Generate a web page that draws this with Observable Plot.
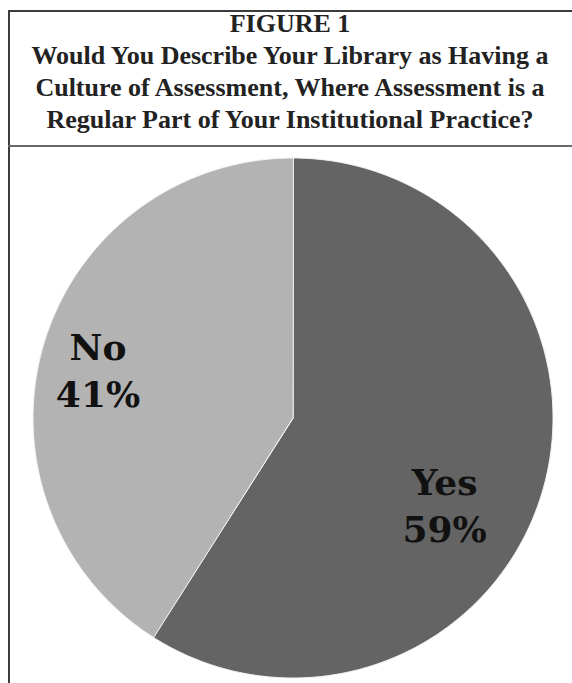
<!DOCTYPE html>
<html>
<head>
<meta charset="utf-8">
<script src="https://cdn.jsdelivr.net/npm/d3@7"></script>
<script src="https://cdn.jsdelivr.net/npm/@observablehq/plot@0.6"></script>
<style>
  html, body { margin: 0; padding: 0; background: #fff; }
  body { width: 572px; height: 683px; overflow: hidden; position: relative; }
  #frame { position: absolute; left: 8px; top: 10px; width: 700px; height: 800px;
           border: 2px solid #3c3c3c; box-sizing: border-box; }
  #divider { position: absolute; left: 8px; top: 145px; width: 600px; height: 0;
             border-top: 2px solid #6a6a6a; }
  #title { position: absolute; left: 8px; top: 8px; width: 564px; text-align: center;
           font-family: "Liberation Serif", serif; font-weight: bold; font-size: 26px;
           line-height: 32px; color: #222; }
  #chart { position: absolute; left: 0; top: 147px; }
</style>
</head>
<body>
<div id="frame"></div>
<div id="title"></div>
<div id="divider"></div>
<div id="chart"></div>
<script>
// ---- data ----
const titleLines = [
  "FIGURE 1",
  "Would You Describe Your Library as Having a",
  "Culture of Assessment, Where Assessment is a",
  "Regular Part of Your Institutional Practice?"
];
const categories = ["Yes", "No"];
const shares = [59, 41];          // percent
const sliceColors = ["#646464", "#b3b3b3"];

// ---- title ----
document.getElementById("title").innerHTML = titleLines.join("<br>");

// ---- build slice outlines from the shares ----
const pieGen = d3.pie().sort(null).value(d => d.share);
const arcs = pieGen(categories.map((c, i) => ({category: c, share: shares[i]})));
const pts = [];
for (const a of arcs) {
  const n = Math.max(2, Math.ceil((a.endAngle - a.startAngle) / (Math.PI * 2) * 720));
  pts.push({category: a.data.category, x: 0, y: 0});
  for (let k = 0; k <= n; k++) {
    const t = a.startAngle + (a.endAngle - a.startAngle) * k / n;
    pts.push({category: a.data.category, x: Math.sin(t), y: Math.cos(t)});
  }
}

// label anchors (layout, in unit-radius coordinates)
const labelAnchor = {Yes: [0.583, -0.33], No: [-0.75, 0.19]};
const labels = categories.map((c, i) => ({
  category: c,
  text: `${c}\n${shares[i]}%`,
  x: labelAnchor[c][0],
  y: labelAnchor[c][1]
}));

// ---- geometry of the plot area ----
const W = 572, H = 536, R = 260, cx = 292.5, cy = 270.5;

const chart = Plot.plot({
  width: W,
  height: H,
  margin: 0,
  style: {background: "transparent", overflow: "visible"},
  x: {domain: [-cx / R, (W - cx) / R], axis: null},
  y: {domain: [-(H - cy) / R, cy / R], axis: null},
  color: {domain: categories, range: sliceColors},
  marks: [
    Plot.line(pts, {
      x: "x", y: "y", z: "category", fill: "category",
      stroke: "#f4f4f4", strokeWidth: 1, curve: "linear-closed"
    }),
    Plot.text(labels, {
      x: "x", y: "y", text: "text",
      fontFamily: "DejaVu Serif", fontWeight: "bold", fontSize: 36,
      lineHeight: 1.3, fill: "#111"
    })
  ]
});
document.getElementById("chart").appendChild(chart);
</script>
</body>
</html>
